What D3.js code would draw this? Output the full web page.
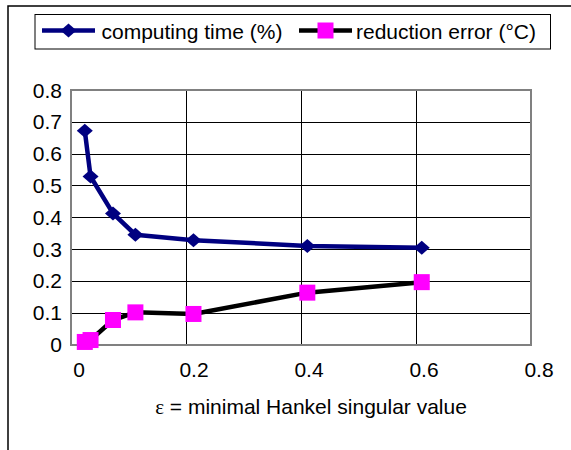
<!DOCTYPE html>
<html>
<head>
<meta charset="utf-8">
<script src="https://cdn.jsdelivr.net/npm/d3@7"></script>
<style>
  html, body { margin: 0; padding: 0; background: #fff; }
  svg { display: block; }
  text { font-family: "Liberation Sans", Arial, sans-serif; font-size: 21px; fill: #000; }
</style>
</head>
<body>
<svg id="chart" width="571" height="450"></svg>
<script>
// ---- data ----
const epsilon = [0.024, 0.034, 0.073, 0.112, 0.213, 0.411, 0.61];
const computingTime = [0.672, 0.528, 0.412, 0.345, 0.328, 0.31, 0.304];
const reductionError = [0.008, 0.014, 0.077, 0.101, 0.096, 0.163, 0.196];
const xTicks = [0, 0.2, 0.4, 0.6, 0.8];
const yTicks = [0, 0.1, 0.2, 0.3, 0.4, 0.5, 0.6, 0.7, 0.8];
const seriesNames = ["computing time (%)", "reduction error (°C)"];
const xTitleSymbol = "ε";
const xTitleRest = " = minimal Hankel singular value";

const svg = d3.select("#chart");
const plot = { left: 71, right: 531, top: 90, bottom: 344.5 };

const x = d3.scaleLinear().domain([0, 0.8]).range([plot.left, plot.right]);
const y = d3.scaleLinear().domain([0, 0.8]).range([plot.bottom, plot.top]);

// outer frame
svg.append("path")
  .attr("d", `M8,450 L8,6 L571,6`)
  .attr("fill", "none").attr("stroke", "#000").attr("stroke-width", 1.5);

// gridlines
svg.append("g").attr("shape-rendering", "crispEdges")
  .selectAll("line").data(yTicks.filter(v => v > 0 && v < 0.8)).join("line")
  .attr("x1", plot.left).attr("x2", plot.right)
  .attr("y1", d => Math.round(y(d)) + 0.5).attr("y2", d => Math.round(y(d)) + 0.5)
  .attr("stroke", "#000").attr("stroke-width", 1);
svg.append("g").attr("shape-rendering", "crispEdges")
  .selectAll("line").data(xTicks.filter(v => v > 0 && v < 0.8)).join("line")
  .attr("y1", plot.top).attr("y2", plot.bottom)
  .attr("x1", d => Math.round(x(d)) + 0.5).attr("x2", d => Math.round(x(d)) + 0.5)
  .attr("stroke", "#000").attr("stroke-width", 1);

// plot border
svg.append("rect")
  .attr("x", plot.left).attr("y", plot.top)
  .attr("width", plot.right - plot.left).attr("height", plot.bottom - plot.top)
  .attr("fill", "none").attr("stroke", "#808080").attr("stroke-width", 2)
  .attr("shape-rendering", "crispEdges");

// y tick labels
svg.append("g").selectAll("text").data(yTicks).join("text")
  .attr("x", 62).attr("y", d => y(d) + 7.5)
  .attr("text-anchor", "end")
  .text(d => d3.format("")(d));

// x tick labels
svg.append("g").selectAll("text").data(xTicks).join("text")
  .attr("x", d => x(d) + 8).attr("y", 376.5)
  .attr("text-anchor", "middle")
  .text(d => d3.format("")(d));

// x title
const title = svg.append("text")
  .attr("x", 311).attr("y", 414)
  .attr("text-anchor", "middle");
title.append("tspan").style("font-family", "'Liberation Serif', 'Times New Roman', serif").text(xTitleSymbol);
title.append("tspan").text(xTitleRest);

const diamond = (cx, cy) => `M${cx},${cy - 7} L${cx + 8},${cy} L${cx},${cy + 7} L${cx - 8},${cy} Z`;

const line = d3.line().x(d => x(d[0])).y(d => y(d[1]));
const ctData = epsilon.map((e, i) => [e, computingTime[i]]);
const reData = epsilon.map((e, i) => [e, reductionError[i]]);

// reduction error line & squares
svg.append("path").datum(reData)
  .attr("d", line).attr("fill", "none")
  .attr("stroke", "#000").attr("stroke-width", 4.5).attr("stroke-linejoin", "round");
svg.append("g").selectAll("rect").data(reData).join("rect")
  .attr("x", d => x(d[0]) - 8).attr("y", d => y(d[1]) - 8)
  .attr("width", 16).attr("height", 16)
  .attr("fill", "#ff00ff");

// computing time line & diamonds
svg.append("path").datum(ctData)
  .attr("d", line).attr("fill", "none")
  .attr("stroke", "#000080").attr("stroke-width", 4.5).attr("stroke-linejoin", "round");
svg.append("g").selectAll("path").data(ctData).join("path")
  .attr("d", d => diamond(x(d[0]), y(d[1])))
  .attr("fill", "#000080");

// legend
const lg = svg.append("g");
lg.append("rect")
  .attr("x", 35).attr("y", 14.5).attr("width", 515.5).attr("height", 34.5)
  .attr("fill", "#fff").attr("stroke", "#000").attr("stroke-width", 1);
lg.append("line").attr("x1", 42).attr("x2", 95).attr("y1", 30.5).attr("y2", 30.5)
  .attr("stroke", "#000080").attr("stroke-width", 4.5);
lg.append("path").attr("d", diamond(68.5, 30.5)).attr("fill", "#000080");
lg.append("text").attr("x", 101.5).attr("y", 39).text(seriesNames[0]);
lg.append("line").attr("x1", 299).attr("x2", 352).attr("y1", 30.5).attr("y2", 30.5)
  .attr("stroke", "#000").attr("stroke-width", 4.5);
lg.append("rect").attr("x", 325.5 - 8).attr("y", 30.5 - 8).attr("width", 16).attr("height", 16)
  .attr("fill", "#ff00ff");
lg.append("text").attr("x", 356).attr("y", 39).text(seriesNames[1]);
</script>
</body>
</html>
